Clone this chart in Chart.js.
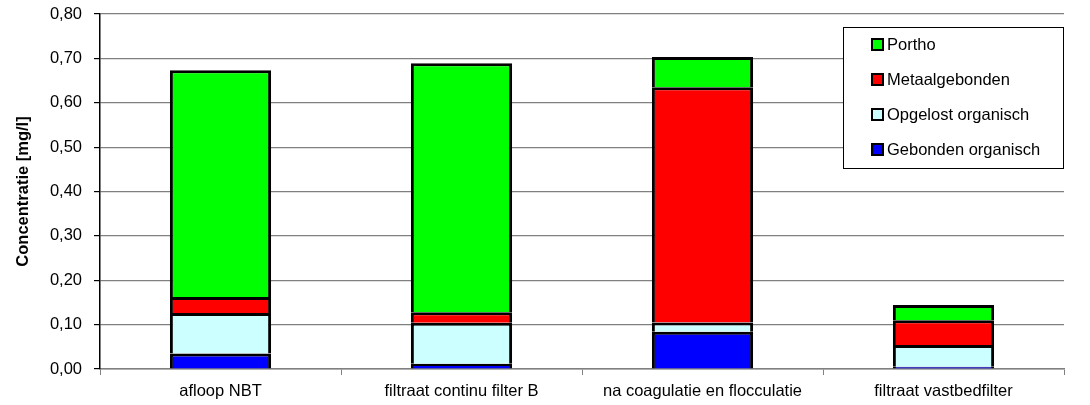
<!DOCTYPE html>
<html>
<head>
<meta charset="utf-8">
<script src="https://cdn.jsdelivr.net/npm/chart.js@4"></script>
<style>
  html, body { margin: 0; padding: 0; background: #fff; }
  #wrap { width: 1090px; height: 405px; }
</style>
</head>
<body>
<div id="wrap"><canvas id="chart" width="1090" height="405"></canvas></div>
<script>
// categories and stacked values (mg/l)
const categories = ['afloop NBT', 'filtraat continu filter B', 'na coagulatie en flocculatie', 'filtraat vastbedfilter'];
const gebondenOrganisch = [0.035, 0.012, 0.084, 0.005];
const opgelostOrganisch = [0.091, 0.092, 0.021, 0.049];
const metaalgebonden = [0.036, 0.024, 0.530, 0.056];
const portho = [0.511, 0.561, 0.068, 0.034];

Chart.defaults.font.family = '"Liberation Sans", Arial, sans-serif';
Chart.defaults.font.size = 16.5;
Chart.defaults.color = '#000';

// legend drawn inside the plot, top right, like the original
const boxLegend = {
  id: 'boxLegend',
  afterDraw(chart) {
    const ctx = chart.ctx;
    const x0 = 843, y0 = 27, w = 220, h = 141;
    ctx.save();
    ctx.fillStyle = '#fff';
    ctx.fillRect(x0, y0, w, h);
    ctx.strokeStyle = '#000';
    ctx.lineWidth = 1;
    ctx.strokeRect(x0 + 0.5, y0 + 0.5, w, h);
    const items = chart.data.datasets.slice().reverse();
    ctx.font = '16.5px "Liberation Sans", Arial, sans-serif';
    ctx.textBaseline = 'middle';
    items.forEach((ds, i) => {
      const y = 45 + i * 35;
      ctx.fillStyle = ds.backgroundColor;
      ctx.fillRect(872, y - 6, 11, 11);
      ctx.strokeStyle = '#000';
      ctx.lineWidth = 2;
      ctx.strokeRect(872, y - 6, 11, 11);
      ctx.fillStyle = '#000';
      ctx.fillText(ds.label, 887, y);
    });
    ctx.restore();
  }
};

new Chart(document.getElementById('chart'), {
  type: 'bar',
  data: {
    labels: categories,
    datasets: [
      { label: 'Gebonden organisch', data: gebondenOrganisch, backgroundColor: '#0000ff' },
      { label: 'Opgelost organisch', data: opgelostOrganisch, backgroundColor: '#ccffff' },
      { label: 'Metaalgebonden', data: metaalgebonden, backgroundColor: '#ff0000' },
      { label: 'Portho', data: portho, backgroundColor: '#00ff00' }
    ].map(d => Object.assign(d, { borderColor: '#000', borderWidth: 3, categoryPercentage: 1, barPercentage: 0.42 }))
  },
  options: {
    responsive: false,
    animation: false,
    layout: { padding: { top: 14, right: 26, left: 0, bottom: 0 } },
    plugins: { legend: { display: false }, tooltip: { enabled: false } },
    scales: {
      x: {
        stacked: true,
        grid: { offset: true, drawOnChartArea: false, tickLength: 6, tickColor: '#808080' },
        border: { color: '#808080', width: 1.5 },
        ticks: { padding: 7, maxRotation: 0 },
        afterFit(s) { s.height = 36; s.paddingLeft = 0; s.paddingRight = 0; }
      },
      y: {
        stacked: true,
        min: 0, max: 0.8,
        ticks: { stepSize: 0.1, padding: 12, callback: v => v.toFixed(2).replace('.', ',') },
        grid: { color: '#808080', lineWidth: 1.2, tickLength: 6, tickColor: '#000' },
        border: { color: '#000', width: 1.5 },
        title: { display: true, text: 'Concentratie [mg/l]', font: { weight: 'bold', size: 16.5 }, padding: { top: 14, bottom: 0 } },
        afterFit(s) { s.width = 100; s.paddingTop = 0; s.paddingBottom = 0; }
      }
    }
  },
  plugins: [boxLegend]
});
</script>
</body>
</html>
